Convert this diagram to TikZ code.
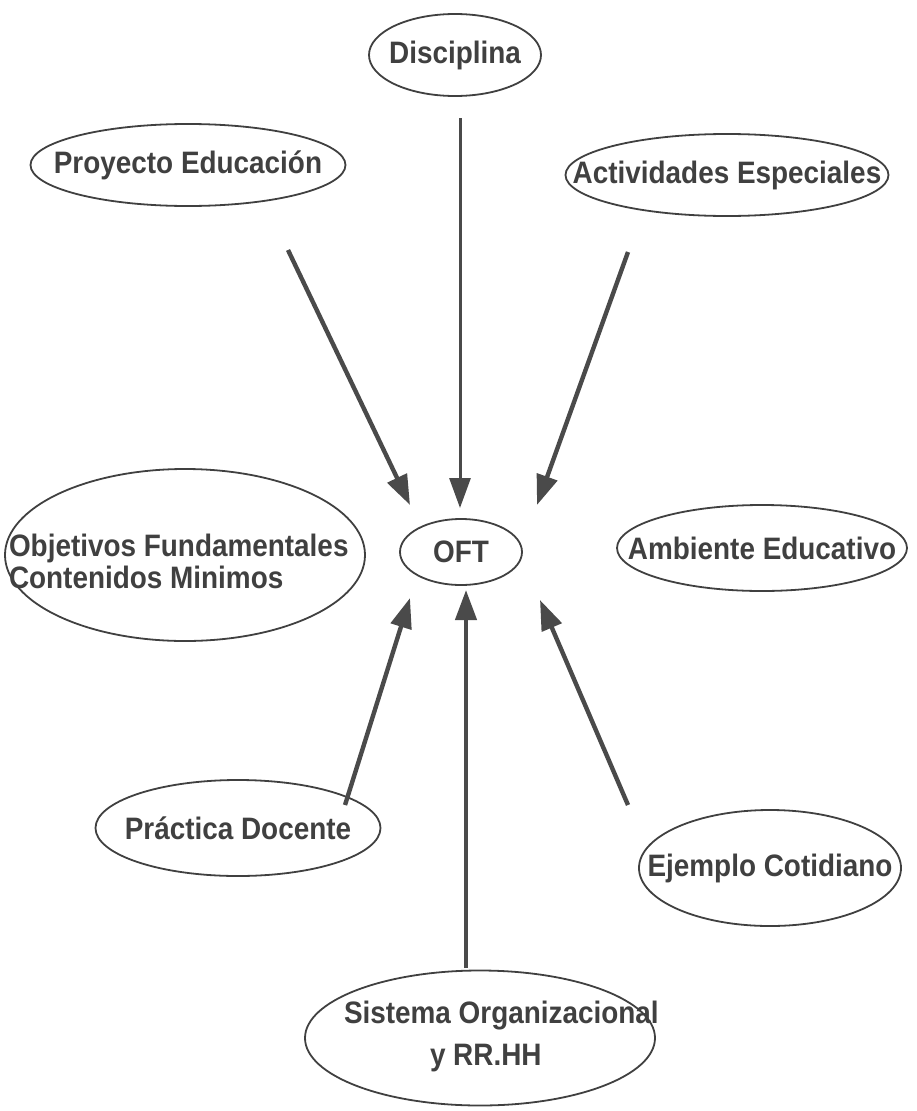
\documentclass[tikz,border=0pt]{standalone}
\usepackage{fontspec}
\setmainfont{Liberation Sans}[FakeStretch=0.9]
\usetikzlibrary{shapes.geometric,arrows.meta}
\definecolor{tinta}{HTML}{404040}
\newcommand{\rotulo}[1]{\makebox[0pt]{#1}}
\tikzset{
    oval/.style ={
        ellipse,                 % 椭圆节点
        draw=tinta,              % 边框颜色
        line width = 1.8pt,      % 边框粗细
        inner sep = 0pt,         % 文字和边框的距离
        text=tinta,              % 文字颜色
        font=\fontsize{31}{30}\selectfont\bfseries
    },
    flecha/.style ={
        draw=tinta!95!white,     % 箭头颜色
        line width = 4.4pt,      % 线宽
        -{Triangle[length=30pt,width=21pt]}
    }
}

\begin{document}
\begin{tikzpicture}[x=1pt,y=-1pt]
    \useasboundingbox (0,0) rectangle (917,1111);
    \node[oval, minimum width=172pt, minimum height=82pt] (1) at(455,55) {\rotulo{Disciplina}};
    \node[oval, minimum width=315pt, minimum height=82pt] (2) at(188,165) {\rotulo{Proyecto Educación}};
    \node[oval, minimum width=323pt, minimum height=82pt] (3) at(727,175) {\rotulo{Actividades Especiales}};
    \node[oval, minimum width=360pt, minimum height=172pt] (4) at(185,555)
        {\makebox[0pt][l]{\hspace{-176pt}\raisebox{-17pt}[0pt][0pt]{\begin{tabular}{@{}l@{}}Objetivos Fundamentales\\Contenidos Minimos\end{tabular}}}};
    \node[oval, minimum width=122pt, minimum height=66pt] (5) at(461,552) {\rotulo{OFT}};
    \node[oval, minimum width=290pt, minimum height=86pt] (6) at(762,548) {\rotulo{Ambiente Educativo}};
    \node[oval, minimum width=285pt, minimum height=96pt] (7) at(238,828) {\rotulo{Práctica Docente}};
    \node[oval, minimum width=262pt, minimum height=116pt] (8) at(770,868) {\rotulo{Ejemplo Cotidiano}};
    \node[oval, minimum width=350pt, minimum height=135pt] (9) at(480,1038)
        {\makebox[0pt][l]{\hspace{-136pt}\begin{tabular}{@{}l@{}}Sistema Organizacional\\[12pt]\hspace{86pt}y RR.HH\end{tabular}}};
    % extremos de las flechas
    \coordinate (a1) at(460,118);  \coordinate (b1) at(460,508);
    \coordinate (a2) at(288,250);  \coordinate (b2) at(410,505);
    \coordinate (a3) at(628,252);  \coordinate (b3) at(537,505);
    \coordinate (a4) at(345,805);  \coordinate (b4) at(410,598);
    \coordinate (a5) at(466,968);  \coordinate (b5) at(466,590);
    \coordinate (a6) at(628,805);  \coordinate (b6) at(540,600);
    \draw[flecha, line width=3pt] (a1) -- (b1);
    \draw[flecha] (a2) -- (b2);
    \draw[flecha] (a3) -- (b3);
    \draw[flecha] (a4) -- (b4);
    \draw[flecha] (a5) -- (b5);
    \draw[flecha] (a6) -- (b6);
\end{tikzpicture}
\end{document}
